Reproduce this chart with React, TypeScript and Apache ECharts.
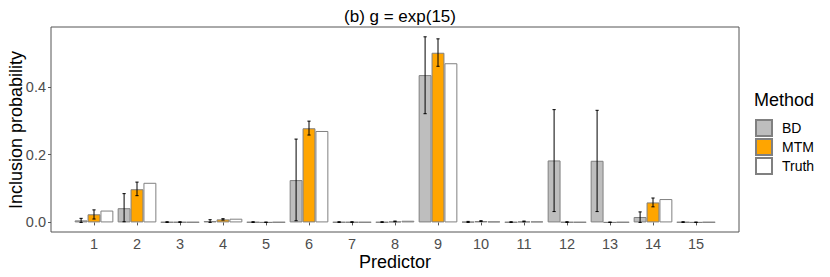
import React, { useEffect, useRef } from "react";
import * as echarts from "echarts";

const categories = ["1", "2", "3", "4", "5", "6", "7", "8", "9", "10", "11", "12", "13", "14", "15"];
const bdValues = [0.006, 0.042, 0.001, 0.004, 0.001, 0.125, 0.001, 0.001, 0.435, 0.002, 0.001, 0.183, 0.182, 0.016, 0.001];
const bdLower = [0.0, 0.002, 0.0, 0.0, 0.0, 0.005, 0.0, 0.0, 0.321, 0.0, 0.0, 0.032, 0.032, 0.0, 0.0];
const bdUpper = [0.012, 0.085, 0.002, 0.008, 0.002, 0.246, 0.002, 0.002, 0.548, 0.003, 0.002, 0.333, 0.331, 0.031, 0.002];
const mtmValues = [0.024, 0.098, 0.001, 0.009, 0.0, 0.278, 0.001, 0.003, 0.501, 0.004, 0.003, 0.001, 0.0, 0.059, 0.0];
const mtmLower = [0.01, 0.079, 0.0, 0.007, 0.0, 0.258, 0.0, 0.002, 0.461, 0.003, 0.002, 0.0, 0.0, 0.046, 0.0];
const mtmUpper = [0.037, 0.119, 0.002, 0.011, 0.001, 0.299, 0.002, 0.004, 0.542, 0.005, 0.004, 0.002, 0.001, 0.072, 0.001];
const truthValues = [0.035, 0.117, 0.001, 0.011, 0.001, 0.27, 0.001, 0.005, 0.47, 0.003, 0.003, 0.001, 0.001, 0.069, 0.001];
const yTicks = [0, 0.2, 0.4];

const FONT = "'Liberation Sans', Arial, Helvetica, sans-serif";

export default function App() {
  const ref = useRef<HTMLDivElement>(null);
  useEffect(() => {
    if (!ref.current) return;
    const chart = echarts.init(ref.current, undefined, { renderer: "svg" });
    const axisCats = ["", ...categories, ""];
    const pad = (arr: number[]) => ["-", ...arr, "-"];
    const errData: any[] = [];
    categories.forEach((_, i) => {
      errData.push([i + 1, bdLower[i], bdUpper[i], -1]);
      errData.push([i + 1, mtmLower[i], mtmUpper[i], 0]);
    });
    const barCommon = {
      type: "bar",
      barWidth: 12.9,
      barGap: "0%",
      itemStyle: { borderColor: "#808080", borderWidth: 1 },
    };
    chart.setOption({
      animation: false,
      textStyle: { fontFamily: FONT },
      title: {
        text: "(b) g = exp(15)",
        left: 395,
        top: 3,
        textAlign: "center",
        textStyle: { fontFamily: FONT, fontSize: 17, fontWeight: "normal", color: "#000" },
      },
      grid: {
        left: 51,
        right: 91,
        top: 27,
        bottom: 45,
        outerBoundsMode: "none",
        containLabel: false,
        show: true,
        borderColor: "#555",
        borderWidth: 1,
        backgroundColor: "#fff",
      },
      legend: {
        orient: "vertical",
        left: 755,
        top: 119,
        itemWidth: 16,
        itemHeight: 16,
        itemGap: 1,
        icon: "rect",
        padding: 0,
        textStyle: { fontFamily: FONT, fontSize: 14, color: "#000", padding: [0, 0, 0, 5] },
        data: ["BD", "MTM", "Truth"],
      },
      graphic: [
        {
          type: "text",
          left: 754,
          top: 91,
          style: { text: "Method", fontFamily: FONT, fontSize: 18, fill: "#000" },
        },
        {
          type: "text",
          x: 16,
          y: 130,
          rotation: Math.PI / 2,
          style: {
            text: "Inclusion probability",
            fontFamily: FONT,
            fontSize: 18,
            fill: "#000",
            align: "center",
            verticalAlign: "middle",
          },
        },
        {
          type: "text",
          x: 395,
          y: 262,
          style: {
            text: "Predictor",
            fontFamily: FONT,
            fontSize: 18,
            fill: "#000",
            align: "center",
            verticalAlign: "middle",
          },
        },
      ],
      xAxis: {
        type: "category",
        data: axisCats,
        boundaryGap: false,
        axisLine: { show: false },
        axisTick: {
          show: true,
          length: 3,
          lineStyle: { color: "#555" },
          interval: (idx: number) => idx > 0 && idx < axisCats.length - 1,
        },
        axisLabel: {
          fontFamily: FONT,
          fontSize: 14.5,
          color: "#4d4d4d",
          margin: 4,
          interval: 0,
        },
        splitLine: { show: false },
      },
      yAxis: {
        type: "value",
        min: -0.0283,
        max: 0.577,
        axisLine: { show: false },
        axisTick: { show: true, length: 3, lineStyle: { color: "#555" }, customValues: yTicks },
        axisLabel: {
          fontFamily: FONT,
          fontSize: 14.5,
          color: "#4d4d4d",
          margin: 5,
          customValues: yTicks,
          formatter: (v: number) => v.toFixed(1),
        },
        splitLine: { show: false },
      },
      series: [
        { ...barCommon, name: "BD", data: pad(bdValues), itemStyle: { ...barCommon.itemStyle, color: "#bebebe" } },
        { ...barCommon, name: "MTM", data: pad(mtmValues), itemStyle: { ...barCommon.itemStyle, color: "#ffa500" } },
        { ...barCommon, name: "Truth", data: pad(truthValues), itemStyle: { ...barCommon.itemStyle, color: "#ffffff" } },
        {
          type: "custom",
          name: "err",
          data: errData,
          z: 10,
          renderItem: (params: any, api: any) => {
            const idx = api.value(0);
            const lo = api.coord([idx, api.value(1)]);
            const hi = api.coord([idx, api.value(2)]);
            const bw = api.size([1, 0])[0];
            const x = lo[0] + api.value(3) * bw * 0.3;
            const cap = 1.6;
            const style = { stroke: "#000", lineWidth: 1 };
            return {
              type: "group",
              children: [
                { type: "line", shape: { x1: x, y1: lo[1], x2: x, y2: hi[1] }, style },
                { type: "line", shape: { x1: x - cap, y1: lo[1], x2: x + cap, y2: lo[1] }, style },
                { type: "line", shape: { x1: x - cap, y1: hi[1], x2: x + cap, y2: hi[1] }, style },
              ],
            };
          },
        },
      ],
    });
    return () => chart.dispose();
  }, []);
  return <div ref={ref} style={{ position: "absolute", left: 0, top: 0, width: 830, height: 277 }} />;
}
